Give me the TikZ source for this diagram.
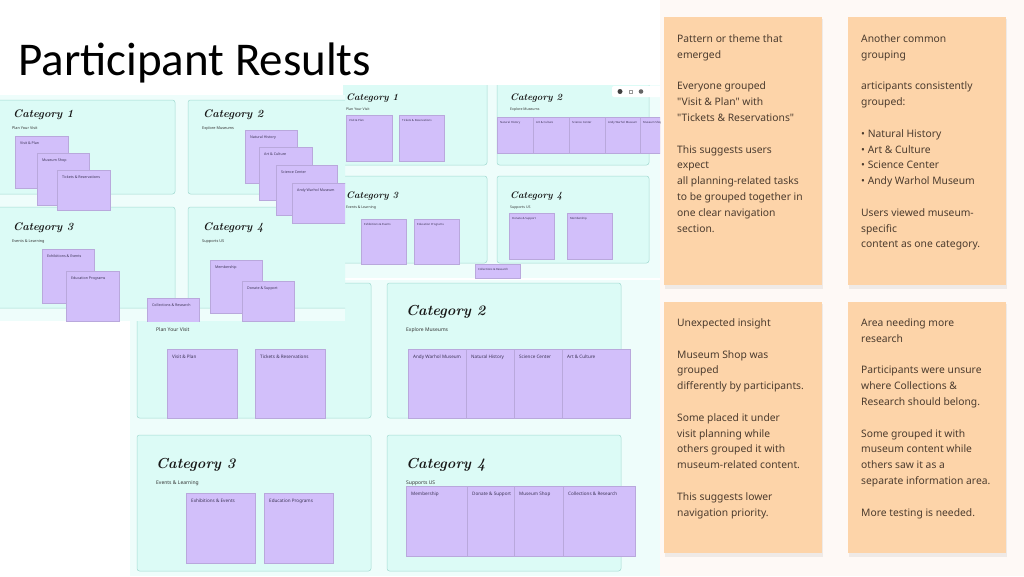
\documentclass[tikz,border=0pt]{standalone}
\usepackage{fontspec}
\usetikzlibrary{positioning}
\newfontfamily\titlefont{Carlito}
\newfontfamily\cardfont{Noto Sans}

\definecolor{panelbg}{HTML}{FEF9F6}
\definecolor{shotbg}{HTML}{EEFDFB}
\definecolor{boxfill}{HTML}{DCFBF6}
\definecolor{boxline}{HTML}{A3DBD2}
\definecolor{notefill}{HTML}{D2BFFA}
\definecolor{notetext}{HTML}{3B3355}
\definecolor{cardfill}{HTML}{FDD4A9}
\definecolor{cardtext}{HTML}{4B3B2E}

\tikzset{
  shot/.style={fill=shotbg},
  catbox/.style={fill=boxfill, draw=boxline, line width=0.5pt, rounded corners=2.5pt},
  sticky/.style={fill=notefill, draw=notefill!88!black, line width=0.2pt},
  hand/.style={anchor=base west, inner sep=0pt, text=black!90,
    font=\bfseries\itshape\fontsize{#1}{#1}\selectfont},
  sub/.style={anchor=base west, inner sep=0pt, text=black!80,
    font=\cardfont\fontsize{#1}{#1}\selectfont},
  lbl/.style={anchor=base west, inner sep=0pt, text=notetext,
    font=\cardfont\fontsize{#1}{#1}\selectfont},
  card/.style={fill=cardfill, minimum width=158pt, minimum height=#1, anchor=north west, inner sep=0pt},
  cardtxt/.style={anchor=north west, inner sep=0pt, align=left, text=cardtext,
    font=\cardfont\fontsize{10.3}{15.8}\selectfont}
}

\begin{document}
\begin{tikzpicture}[x=1pt,y=-1pt]
  \useasboundingbox (0,0) rectangle (1024,576);
  \fill[white] (0,0) rectangle (1024,576);
  \fill[panelbg] (660,0) rectangle (1024,576);

  \node[anchor=base west, inner sep=0pt, font=\titlefont\fontsize{47}{47}\selectfont] (title) at (18,75) {Participant Results};

  % board B, top middle
  \begin{scope}
    \clip (343,85) rectangle (660,278);
    \fill[shot] (343,85) rectangle (660,278);
    \draw[catbox] (330,75) rectangle (487,165);
    \draw[catbox] (497,75) rectangle (649,165);
    \draw[catbox] (330,176) rectangle (487,263);
    \draw[catbox] (497,176) rectangle (649,263);
    \node[hand=9.5] (b1) at (346,100) {Category 1};
    \node[hand=9.5] (b2) at (510,100) {Category 2};
    \node[hand=9.5] (b3) at (346,198) {Category 3};
    \node[hand=9.5] (b4) at (510,198) {Category 4};
    \node[sub=3.5] (b1s) at (346,110) {Plan Your Visit};
    \node[sub=3.5] (b2s) at (510,110) {Explore Museums};
    \node[sub=3.5] (b3s) at (346,208) {Events \& Learning};
    \node[sub=3.5] (b4s) at (510,208) {Supports US};
    \foreach \x/\y/\w/\h/\t [count=\i] in {346/115/46/46/Visit \& Plan, 399/115/45/46/Tickets \& Reservations,
        497/117/36/36/Natural History, 533/117/36/36/Art \& Culture, 569/117/36/36/Science Center,
        605/117/35/36/Andy Warhol Museum, 640/117/20/36/Museum Shop,
        361/219/45/45/Exhibitions \& Events, 414/219/45/45/Education Programs,
        509/213/45/46/Donate \& Support, 567/213/45/46/Membership, 475/264/45/14/Collections \& Research} {
      \fill[sticky] (\x,\y) rectangle ++(\w,\h);
      \node[lbl=2.8] (bn\i) at (\x+3,\y+6) {\t};
    }
    % toolbar
    \fill[white, rounded corners=2pt] (612,86) rectangle (662,97);
    \fill[black!75] (620,91.5) circle (2.5);
    \draw[black!40, line width=0.4pt] (629,90) rectangle ++(3,3);
    \fill[black!60] (641,91.5) circle (2.3);
  \end{scope}

  % board C, bottom middle
  \begin{scope}
    \clip (130,280) rectangle (660,576);
    \fill[shot] (130,280) rectangle (660,576);
    \draw[catbox] (137,283) rectangle (371,418);
    \draw[catbox] (387,283) rectangle (621,418);
    \draw[catbox] (137,435) rectangle (371,571);
    \draw[catbox] (387,435) rectangle (621,571);
    \node[hand=14.5] (c2) at (406,315) {Category 2};
    \node[hand=14.5] (c3) at (156,468) {Category 3};
    \node[hand=14.5] (c4) at (406,468) {Category 4};
    \node[sub=5] (c1s) at (156,331) {Plan Your Visit};
    \node[sub=5] (c2s) at (406,331) {Explore Museums};
    \node[sub=5] (c3s) at (156,484) {Events \& Learning};
    \node[sub=5] (c4s) at (406,484) {Supports US};
    \foreach \x/\y/\w/\h/\t [count=\i] in {167/349/70/69/Visit \& Plan, 255/349/70/69/Tickets \& Reservations,
        408/349/58/69/Andy Warhol Museum, 466/349/48/69/Natural History, 514/349/48/69/Science Center,
        562/349/68/69/Art \& Culture, 186/493/69/70/Exhibitions \& Events, 264/493/69/70/Education Programs,
        406/486/61/70/Membership, 467/486/47/70/Donate \& Support, 514/486/49/70/Museum Shop,
        563/486/72/70/Collections \& Research} {
      \fill[sticky] (\x,\y) rectangle ++(\w,\h);
      \node[lbl=4.6] (cn\i) at (\x+5,\y+9.5) {\t};
    }
  \end{scope}

  % board A, top left
  \begin{scope}
    \clip (0,95) rectangle (345,321);
    \fill[shot] (0,95) rectangle (345,321);
    \draw[catbox] (-10,100) rectangle (175,194);
    \draw[catbox] (188,100) rectangle (355,194);
    \draw[catbox] (-10,207) rectangle (175,308);
    \draw[catbox] (188,207) rectangle (355,308);
    \node[hand=11] (a1) at (13,117) {Category 1};
    \node[hand=11] (a2) at (203,117) {Category 2};
    \node[hand=11] (a3) at (13,230) {Category 3};
    \node[hand=11] (a4) at (203,230) {Category 4};
    \node[sub=3.8] (a1s) at (12,129) {Plan Your Visit};
    \node[sub=3.8] (a2s) at (202,129) {Explore Museums};
    \node[sub=3.8] (a3s) at (12,242) {Events \& Learning};
    \node[sub=3.8] (a4s) at (202,242) {Supports US};
    \foreach \x/\y/\w/\h/\t [count=\i] in {15/136/53/52/Visit \& Plan, 37/153/52/52/Museum Shop,
        57/170/53/40/Tickets \& Reservations, 245/130/52/53/Natural History, 259/147/53/53/Art \& Culture,
        276/165/61/50/Science Center, 292/183/60/40/Andy Warhol Museum,
        42/249/52/54/Exhibitions \& Events, 66/271/53/50/Education Programs,
        210/260/52/53/Membership, 242/281/52/40/Donate \& Support, 147/298/52/25/Collections \& Research} {
      \fill[sticky] (\x,\y) rectangle ++(\w,\h);
      \node[lbl=3.6] (an\i) at (\x+5,\y+8) {\t};
    }
  \end{scope}

  % insight cards
  \foreach \x/\y/\h in {664/17/268, 848/17/268, 664/302/251, 848/302/251}
    \fill[black, opacity=0.06] (\x+1,\y+2) rectangle ++(158,\h+1.5);
  \node[card=268pt] (k1) at (664,17) {};
  \node[card=268pt] (k2) at (848,17) {};
  \node[card=251pt] (k3) at (664,302) {};
  \node[card=251pt] (k4) at (848,302) {};

  \node[cardtxt] (k1t) at ([xshift=13pt, yshift=-17.5pt]k1.north west)
    {Pattern or theme that\\ emerged\\[15.8pt]
     Everyone grouped\\ "Visit \& Plan" with\\ "Tickets \& Reservations"\\[15.8pt]
     This suggests users\\ expect\\ all planning-related tasks\\ to be grouped together in\\
     one clear navigation\\ section.};
  \node[cardtxt] (k2t) at ([xshift=13pt, yshift=-17.5pt]k2.north west)
    {Another common\\ grouping\\[15.8pt]
     articipants consistently\\ grouped:\\[15.8pt]
     • Natural History\\ • Art \& Culture\\ • Science Center\\ • Andy Warhol Museum\\[15.8pt]
     Users viewed museum-\\ specific\\ content as one category.};
  \node[cardtxt] (k3t) at ([xshift=13pt, yshift=-16.5pt]k3.north west)
    {Unexpected insight\\[15.8pt]
     Museum Shop was\\ grouped\\ differently by participants.\\[15.8pt]
     Some placed it under\\ visit planning while\\ others grouped it with\\ museum-related content.\\[15.8pt]
     This suggests lower\\ navigation priority.};
  \node[cardtxt] (k4t) at ([xshift=13pt, yshift=-16.5pt]k4.north west)
    {Area needing more\\ research\\[15.8pt]
     Participants were unsure\\ where Collections \&\\ Research should belong.\\[15.8pt]
     Some grouped it with\\ museum content while\\ others saw it as a\\ separate information area.\\[15.8pt]
     More testing is needed.};
\end{tikzpicture}
\end{document}
